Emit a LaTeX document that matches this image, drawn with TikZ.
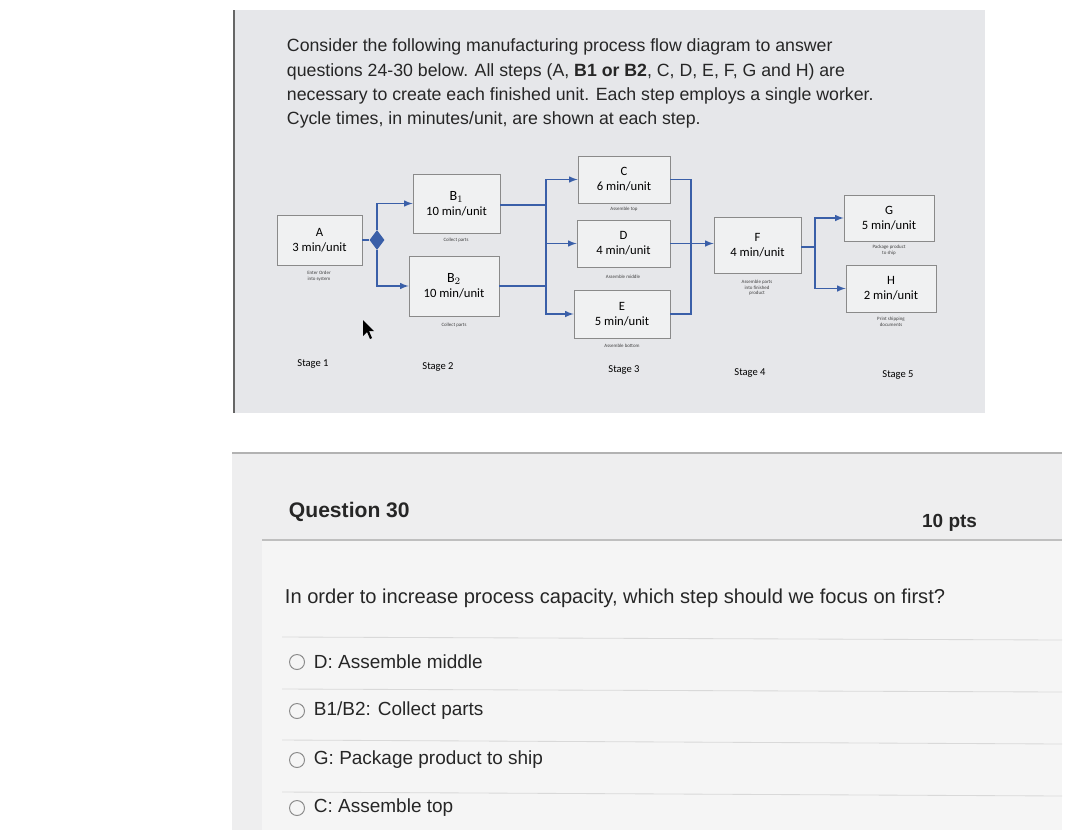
\documentclass[tikz,border=0pt]{standalone}
\usepackage{fontspec}
\setmainfont{Liberation Sans}
\newfontfamily\calfont{Carlito}
\usetikzlibrary{shapes.geometric}
\definecolor{panel}{HTML}{E6E7EA}
\definecolor{panelb}{HTML}{EEEEEF}
\definecolor{flow}{HTML}{3A5FA8}
\definecolor{boxline}{HTML}{8A8A8A}
\begin{document}
\begin{tikzpicture}[x=0.025cm,y=-0.025cm,
  proc/.style={draw=boxline,fill=panel!60!white,line width=0.6pt,align=center,font=\calfont\fontsize{9}{10.5}\selectfont,inner sep=0pt},
  sub/.style={font=\calfont\fontsize{3.5}{4}\selectfont,align=center,text=black!75},
  stg/.style={font=\calfont\fontsize{7.5}{8}\selectfont},
  fl/.style={draw=flow,line width=1.1pt},
  fa/.style={draw=flow,line width=1.1pt,-latex},
  qt/.style={font=\fontsize{13.5}{15}\selectfont,anchor=west,text=black!85},
  sep/.style={draw=black!15,line width=0.6pt}]
\useasboundingbox (0,0) rectangle (1076,830);
\fill[white] (0,0) rectangle (1076,830);
% top panel
\fill[panel] (234,10) rectangle (985,413);
\draw[black!60,line width=1.5pt] (234,10) -- (234,413);
\node[anchor=north west,align=left,font=\fontsize{12.6}{17.3}\selectfont,text=black!85] (intro) at (282,34)
{Consider the following manufacturing process flow diagram to answer\\
questions 24-30 below. All steps (A, \textbf{B1 or B2}, C, D, E, F, G and H) are\\
necessary to create each finished unit. Each step employs a single worker.\\
Cycle times, in minutes/unit, are shown at each step.};
% boxes
\node[proc,minimum width=85*0.025cm,minimum height=50*0.025cm] (A) at (319.5,240) {A\\3 min/unit};
\node[proc,minimum width=87*0.025cm,minimum height=59*0.025cm] (B1) at (456.5,203.5) {\fontsize{10}{11.5}\selectfont B$_1$\\10 min/unit};
\node[proc,minimum width=90*0.025cm,minimum height=60*0.025cm] (B2) at (454,286) {\fontsize{10}{11.5}\selectfont B$_2$\\10 min/unit};
\node[proc,minimum width=92*0.025cm,minimum height=47*0.025cm] (C) at (624,179.5) {C\\6 min/unit};
\node[proc,minimum width=93*0.025cm,minimum height=47*0.025cm] (D) at (623.5,243.5) {D\\4 min/unit};
\node[proc,minimum width=96*0.025cm,minimum height=48*0.025cm] (E) at (622,314) {E\\5 min/unit};
\node[proc,minimum width=87*0.025cm,minimum height=56*0.025cm] (F) at (757.5,245) {F\\4 min/unit};
\node[proc,minimum width=90*0.025cm,minimum height=46*0.025cm] (G) at (889,218) {G\\5 min/unit};
\node[proc,minimum width=90*0.025cm,minimum height=47*0.025cm] (H) at (891,288.5) {H\\2 min/unit};
% sublabels
\node[sub] (sA) at (319,276) {Enter Order\\into system};
\node[sub] (sB1) at (456,240) {Collect parts};
\node[sub] (sB2) at (454,325) {Collect parts};
\node[sub] (sC) at (624,209) {Assemble top};
\node[sub] (sD) at (623,277) {Assemble middle};
\node[sub] (sE) at (622,346) {Assemble bottom};
\node[sub] (sF) at (757,288) {Assemble parts\\into finished\\product};
\node[sub] (sG) at (889,250) {Package product\\to ship};
\node[sub] (sH) at (891,322) {Print shipping\\documents};
% stages
\node[stg] (s1) at (313,364) {Stage 1};
\node[stg] (s2) at (438,367) {Stage 2};
\node[stg] (s3) at (624,370) {Stage 3};
\node[stg] (s4) at (750,373) {Stage 4};
\node[stg] (s5) at (898,375) {Stage 5};
% flow
\node[diamond,fill=flow,inner sep=0pt,minimum width=15*0.025cm,minimum height=20*0.025cm] (dia) at (377,240) {};
\coordinate (m1) at (546,205);
\coordinate (m2) at (691,243);
\coordinate (m3) at (815,247);
\draw[fl] (A.east) -- (dia.west);
\draw[fa] (dia.north) |- (B1.west);
\draw[fa] (dia.south) |- (B2.west);
\draw[fl] (B1.east |- m1) -- (m1);
\draw[fl] (B2.east) -| (m1);
\draw[fa] (m1) |- (C.west);
\draw[fa] (m1) |- (D.west);
\draw[fa] (m1) |- (E.west);
\draw[fl] (C.east) -| (m2);
\draw[fl] (E.east) -| (m2);
\draw[fa] (D.east) -- (D.east -| F.west);
\draw[fl] (F.east |- m3) -- (m3);
\draw[fa] (m3) |- (G.west);
\draw[fa] (m3) |- (H.west);
% pointer
\fill[black] (363,320) -- (363,336) -- (367,332) -- (370,339) -- (372,338) -- (369,331) -- (374,331) -- cycle;
% bottom panel
\fill[panelb] (232,453) rectangle (1062,830);
\draw[black!30,line width=0.8pt] (232,453) -- (1062,453);
\fill[white!96!black] (262,540) rectangle (1062,830);
\draw[black!25,line width=0.8pt] (262,540) -- (1062,540);
\node[anchor=west,font=\bfseries\fontsize{15}{17}\selectfont,text=black!85] (q) at (284,512) {Question 30};
\node[anchor=east,font=\bfseries\fontsize{13.5}{16}\selectfont,text=black!85] (pts) at (982,523) {10 pts};
\node[qt,font=\fontsize{14.3}{16}\selectfont] (qq) at (280,598) {In order to increase process capacity, which step should we focus on first?};
\draw[sep] (282,637) -- (1062,640);
\draw[sep] (282,689) -- (1062,692);
\draw[sep] (282,740) -- (1062,744);
\draw[sep] (282,792) -- (1062,796);
\foreach \y/\t/\n in {662/{D: Assemble middle}/o1,711/{B1/B2: Collect parts}/o2,760/{G: Package product to ship}/o3,808/{C: Assemble top}/o4}{
  \draw[black!45,line width=0.7pt] (297,\y) circle (7.5);
  \node[qt] (\n) at (309,\y) {\t};
}
\end{tikzpicture}
\end{document}
